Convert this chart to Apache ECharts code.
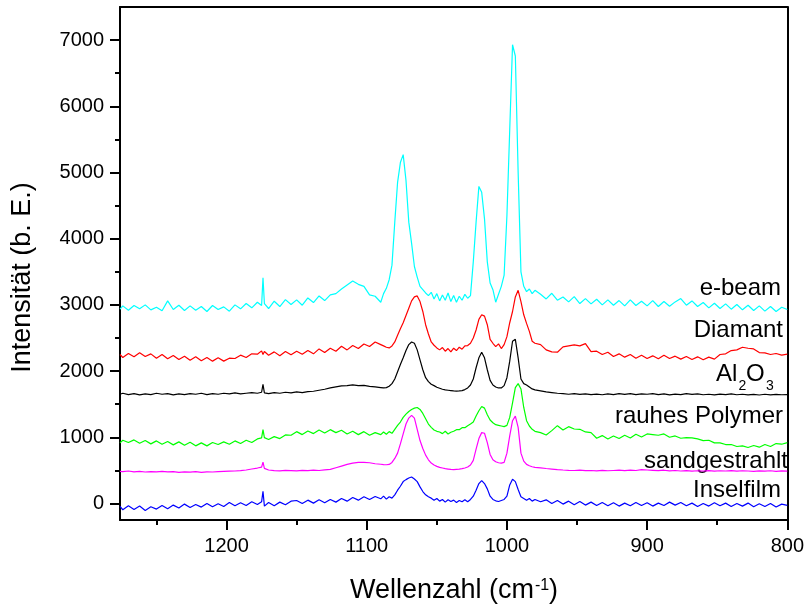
<!DOCTYPE html>
<html>
<head>
<meta charset="utf-8">
<script src="https://cdn.jsdelivr.net/npm/echarts@6/dist/echarts.min.js"></script>
<style>
html,body{margin:0;padding:0;background:#fff;}
#chart{width:807px;height:610px;}
</style>
</head>
<body>
<div id="chart"></div>
<script>
// Wavenumber grid (cm^-1)
const wavenumbers = [
  1276,1274,1270,1266,1262,1258,1254,1250,1246,1242,
  1238,1234,1230,1226,1222,1218,1214,1210,1206,1202,
  1198,1194,1190,1186,1182,1178,
  1175,1174,1173,
  1170,1166,1162,1158,1154,1150,1146,1142,1138,1134,
  1130,1126,1122,1118,1114,1110,1106,1102,1098,1094,
  1090,1088,1086,1084,1082,1080,1078,1076,1074,1072,
  1070,1068,1066,1064,1062,1060,1058,1056,1054,1052,
  1050,1048,1046,1044,1042,1040,1038,1036,1034,1032,
  1030,1028,1026,1024,1022,1020,1018,1016,1014,1012,
  1010,1008,1006,1004,1002,1000,998,996,994,992,
  990,988,986,984,982,980,
  976,972,968,964,960,956,952,948,944,940,
  936,932,928,924,920,916,912,908,904,900,
  896,892,888,884,880,876,872,868,864,860,
  856,852,848,844,840,836,832,828,824,820,
  816,812,808,804,800
];

const eBeam = [
  2935,2985,2920,2990,2940,3000,2925,2965,2910,3060,
  2930,2995,2915,2985,2920,2975,2900,2990,2930,2970,
  2905,3000,2940,3020,2955,3040,
  2990,3410,3020,
  2945,3055,2975,3080,3005,3075,2995,3105,3035,3135,
  3065,3150,3170,3240,3300,3360,3310,3280,3150,3130,
  3040,3170,3250,3380,3600,4250,4850,5150,5270,4880,
  4250,3930,3580,3420,3280,3230,3180,3140,3190,3090,
  3170,3060,3150,3070,3180,3050,3140,3040,3130,3070,
  3160,3100,3140,3650,4250,4790,4700,4300,3650,3330,
  3230,3040,3160,3280,3450,4350,5650,6930,6760,5000,
  3500,3280,3200,3240,3170,3220,
  3160,3090,3175,3070,3120,3045,3125,3020,3095,3015,
  3085,3000,3075,2995,3065,2985,3075,2990,3055,2985,
  3065,2975,3050,2980,3045,3095,2995,3060,2975,3035,
  2955,3025,2945,3015,2935,3005,2925,2995,2915,2985,
  2905,2975,2900,2965,2930
];

const diamant = [
  2250,2205,2265,2215,2275,2220,2260,2195,2250,2185,
  2235,2175,2225,2165,2215,2155,2205,2150,2200,2150,
  2195,2190,2240,2205,2260,2255,
  2305,2250,2295,
  2240,2290,2230,2295,2245,2300,2255,2310,2260,2335,
  2280,2345,2300,2375,2320,2385,2340,2410,2370,2440,
  2400,2380,2360,2350,2380,2440,2540,2640,2730,2840,
  2950,3060,3120,3135,3050,2900,2700,2560,2440,2390,
  2350,2320,2355,2300,2340,2290,2345,2310,2360,2330,
  2380,2385,2420,2500,2620,2780,2850,2830,2700,2480,
  2420,2370,2410,2340,2400,2520,2730,2900,3120,3220,
  3050,2850,2720,2600,2450,2420,
  2400,2320,2290,2285,2365,2380,2395,2380,2415,2295,
  2300,2250,2285,2220,2260,2210,2250,2195,2240,2190,
  2230,2185,2240,2190,2225,2180,2220,2175,2215,2170,
  2210,2180,2250,2260,2310,2320,2360,2345,2335,2280,
  2275,2250,2265,2240,2255
];

const al2o3 = [
  1650,1665,1645,1660,1640,1655,1645,1665,1650,1660,
  1640,1655,1645,1660,1650,1665,1645,1660,1650,1665,
  1655,1670,1655,1665,1675,1665,
  1680,1800,1670,
  1660,1675,1665,1680,1670,1685,1675,1690,1695,1710,
  1725,1745,1760,1775,1780,1790,1780,1785,1770,1760,
  1750,1745,1750,1770,1810,1880,1990,2100,2200,2310,
  2400,2440,2420,2320,2170,2020,1900,1840,1800,1780,
  1755,1740,1725,1715,1710,1705,1700,1698,1700,1705,
  1720,1745,1790,1880,2050,2200,2285,2200,2020,1860,
  1790,1760,1745,1745,1780,1900,2150,2450,2480,2200,
  1880,1810,1790,1760,1730,1715,
  1700,1685,1675,1665,1660,1650,1660,1648,1655,1645,
  1652,1642,1655,1645,1658,1648,1660,1645,1655,1650,
  1660,1645,1655,1640,1652,1645,1658,1648,1655,1642,
  1650,1640,1652,1645,1655,1642,1650,1640,1648,1638,
  1650,1640,1648,1642,1645
];

const rauhesPolymer = [
  915,955,920,960,910,950,900,945,895,935,
  885,930,880,925,870,915,870,920,890,930,
  895,945,905,955,920,975,
  990,1115,995,
  965,1010,980,1035,1030,1085,1040,1095,1055,1110,
  1065,1115,1070,1105,1050,1090,1040,1085,1030,1070,
  1040,1080,1045,1085,1060,1120,1180,1230,1300,1350,
  1390,1420,1440,1450,1420,1360,1280,1200,1150,1110,
  1090,1080,1055,1090,1050,1075,1090,1115,1115,1145,
  1145,1175,1200,1230,1320,1400,1465,1440,1340,1260,
  1220,1190,1180,1170,1160,1180,1300,1520,1750,1810,
  1730,1450,1250,1170,1120,1090,
  1070,1035,1100,1175,1110,1160,1125,1120,1080,1070,
  985,1025,975,1020,980,1030,990,1045,1005,1050,
  1040,1030,1050,1000,1020,985,995,990,975,950,
  955,915,915,890,890,860,870,845,875,850,
  890,860,905,895,920
];

const sandgestrahlt = [
  485,480,490,478,485,475,482,478,485,476,
  482,470,478,472,480,470,478,475,482,485,
  488,490,495,505,520,535,
  550,625,530,
  505,495,492,500,496,492,500,495,502,498,
  508,515,540,565,590,610,620,622,615,600,
  592,588,585,590,620,680,760,900,1050,1200,
  1290,1330,1290,1120,950,830,730,660,610,580,
  560,545,535,525,520,515,512,515,518,525,
  535,550,580,650,820,980,1070,1060,920,740,
  660,630,615,610,620,760,1020,1250,1320,1150,
  760,640,590,570,555,545,
  538,528,520,512,505,500,498,502,495,498,
  492,500,494,498,502,496,504,498,510,505,
  500,495,502,492,498,490,496,488,494,490,
  496,488,494,490,496,488,494,490,486,492,
  488,494,486,492,488
];

const inselfilm = [
  -45,-95,-35,-90,-40,-105,-50,-85,-30,-80,
  -25,-70,-10,-60,-15,-55,0,-50,-5,-45,
  15,-35,10,-30,25,-15,
  25,185,-40,
  15,-35,20,-20,35,45,0,50,5,55,
  10,60,20,75,35,90,50,100,60,105,
  70,110,65,100,80,130,200,260,330,360,
  385,400,370,330,250,180,130,100,80,50,
  75,35,60,20,55,30,50,15,45,25,
  55,25,60,110,200,300,345,300,220,110,
  60,40,30,45,60,110,280,365,330,210,
  100,75,50,75,35,60,
  25,55,0,45,-10,35,-20,30,-25,20,
  -30,15,-35,10,-40,5,-35,15,-30,10,
  -40,5,-30,20,-25,15,-35,5,-45,0,
  -40,10,-35,5,-45,0,-40,5,-50,-5,
  -45,0,-55,-10,-30
];

const seriesNames = ['e-beam', 'Diamant', 'Al2O3', 'rauhes Polymer', 'sandgestrahlt', 'Inselfilm'];
const seriesValues = [eBeam, diamant, al2o3, rauhesPolymer, sandgestrahlt, inselfilm];
const xTicks = [800, 900, 1000, 1100, 1200];
const xMinorTicks = [850, 950, 1050, 1150, 1250];
const yTicks = [0, 1000, 2000, 3000, 4000, 5000, 6000, 7000];
const yMinorTicks = [500, 1500, 2500, 3500, 4500, 5500, 6500];
const xTitle = 'Wellenzahl (cm';
const xTitleSup = '-1';
const yTitle = 'Intensität (b. E.)';

const colors = ['#00FFFF', '#FF0000', '#000000', '#00FF00', '#FF00FF', '#0000FF'];
const FONT = "'Liberation Sans', Arial, Helvetica, sans-serif";
const axisLineStyle = { color: '#000', width: 2 };
const plainNumber = v => String(v);

const xBase = { type: 'value', min: 800, max: 1276, inverse: true, splitLine: { show: false } };
const yBase = { type: 'value', min: -250, max: 7500, splitLine: { show: false } };

const chart = echarts.init(document.getElementById('chart'), null, { renderer: 'canvas' });

const series = seriesValues.map((vals, i) => ({
  name: seriesNames[i],
  type: 'line',
  xAxisIndex: 0,
  yAxisIndex: 0,
  showSymbol: false,
  symbol: 'none',
  silent: true,
  lineStyle: { color: colors[i], width: 1.2 },
  data: wavenumbers.map((x, j) => [x, vals[j]])
}));

function txt(text, x, y, size, align, extra) {
  return Object.assign({
    type: 'text', x: x, y: y, silent: true,
    style: { text: text, fill: '#000', fontSize: size, fontFamily: FONT, align: align, verticalAlign: 'middle' }
  }, extra || {});
}

const option = {
  animation: false,
  backgroundColor: '#fff',
  grid: { left: 120, right: 18, top: 7, bottom: 90, containLabel: false },
  xAxis: [
    Object.assign({}, xBase, {
      position: 'bottom',
      axisLine: { show: true, onZero: false, lineStyle: axisLineStyle },
      axisTick: { show: true, length: 10, lineStyle: { color: '#000', width: 2 }, customValues: xTicks },
      axisLabel: { show: true, customValues: xTicks, formatter: plainNumber, margin: 16, fontSize: 20, color: '#000', fontFamily: FONT }
    }),
    Object.assign({}, xBase, {
      position: 'bottom',
      axisLine: { show: false, onZero: false },
      axisTick: { show: true, length: 5, lineStyle: { color: '#000', width: 2 }, customValues: xMinorTicks },
      axisLabel: { show: false }
    }),
    Object.assign({}, xBase, {
      position: 'top',
      axisLine: { show: true, onZero: false, lineStyle: axisLineStyle },
      axisTick: { show: false },
      axisLabel: { show: false }
    })
  ],
  yAxis: [
    Object.assign({}, yBase, {
      position: 'left',
      axisLine: { show: true, onZero: false, lineStyle: axisLineStyle },
      axisTick: { show: true, length: 10, lineStyle: { color: '#000', width: 2 }, customValues: yTicks },
      axisLabel: { show: true, customValues: yTicks, formatter: plainNumber, margin: 16, fontSize: 20, color: '#000', fontFamily: FONT }
    }),
    Object.assign({}, yBase, {
      position: 'left',
      axisLine: { show: false, onZero: false },
      axisTick: { show: true, length: 5, lineStyle: { color: '#000', width: 2 }, customValues: yMinorTicks },
      axisLabel: { show: false }
    }),
    Object.assign({}, yBase, {
      position: 'right',
      axisLine: { show: true, onZero: false, lineStyle: axisLineStyle },
      axisTick: { show: false },
      axisLabel: { show: false }
    })
  ],
  series: series,
  graphic: [
    txt(seriesNames[0], 781, 288.5, 24, 'right'),
    txt(seriesNames[1], 783, 330.7, 24, 'right'),
    txt('Al', 716, 374, 24, 'left'),
    txt('2', 738.5, 386.5, 14, 'left'),
    txt('O', 746, 374, 24, 'left'),
    txt('3', 766, 386.5, 14, 'left'),
    txt(seriesNames[3], 783, 416.7, 24, 'right'),
    txt(seriesNames[4], 788, 461.7, 24, 'right'),
    txt(seriesNames[5], 781, 490.7, 24, 'right'),
    txt(xTitle, 350, 590.5, 27, 'left'),
    txt(xTitleSup, 535, 586, 16, 'left'),
    txt(')', 549, 590.5, 27, 'left'),
    txt(yTitle, 22.2, 277.5, 27, 'center', { rotation: Math.PI / 2 })
  ]
};

chart.setOption(option);
</script>
</body>
</html>
